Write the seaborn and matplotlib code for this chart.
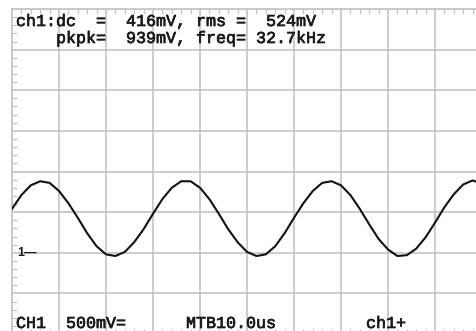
import numpy as np
import pandas as pd
import seaborn as sns
import matplotlib.pyplot as plt
import matplotlib.patheffects as pe
from matplotlib.ticker import MultipleLocator, NullFormatter

# time base in microseconds (10 us / div), CH1 voltage in volts (500 mV / div)
time_us = [0, 2, 4, 6, 8, 10, 12, 14, 16, 18, 20, 22, 24, 26, 28, 30, 32, 34, 36, 38,
           40, 42, 44, 46, 48, 50, 52, 54, 56, 58, 60, 62, 64, 66, 68, 70, 72, 74, 76, 78,
           80, 82, 84, 86, 88, 90, 92, 94, 96, 98, 100]
ch1_volts = [0.54, 0.71, 0.83, 0.88, 0.86, 0.76, 0.61, 0.43, 0.24, 0.08, -0.02, -0.04, 0.01,
             0.13, 0.29, 0.48, 0.66, 0.80, 0.88, 0.88, 0.80, 0.66, 0.48, 0.29, 0.13, 0.01,
             -0.04, -0.02, 0.08, 0.24, 0.43, 0.61, 0.76, 0.86, 0.88, 0.83, 0.71, 0.54, 0.35,
             0.17, 0.04, -0.04, -0.03, 0.05, 0.19, 0.37, 0.56, 0.72, 0.84, 0.89, 0.85]

readout_top = ["ch1:dc  =  416mV, rms =  524mV",
               "    pkpk=  939mV, freq= 32.7kHz"]
readout_bottom = "CH1  500mV=      MTB10.0us         ch1+"
ground_marker = "1\u2014"

W, H = 477, 331
grid_col = '#c4c4c4'
text_col = '#1a1a1a'

sns.set_style('white')
plt.rcParams['font.family'] = ['Liberation Mono', 'DejaVu Sans Mono']

fig = plt.figure(figsize=(W / 100, H / 100), dpi=100)
# screen area: 10 x 8 divisions, right and bottom edges run slightly off the picture
ax = fig.add_axes([12 / W, (H - 334) / H, 470 / W, 325 / H])

df = pd.DataFrame({'t': time_us, 'v': ch1_volts})
sns.lineplot(data=df, x='t', y='v', ax=ax, color='#111111', linewidth=1.5, zorder=3)

ax.set_xlim(0, 100)
ax.set_ylim(-1.0, 3.0)
ax.xaxis.set_major_locator(MultipleLocator(10))
ax.yaxis.set_major_locator(MultipleLocator(0.5))
ax.xaxis.set_minor_locator(MultipleLocator(2))
ax.yaxis.set_minor_locator(MultipleLocator(0.1))
ax.xaxis.set_major_formatter(NullFormatter())
ax.yaxis.set_major_formatter(NullFormatter())
ax.grid(True, which='major', color=grid_col, linewidth=1.2)
ax.tick_params(which='major', length=0)
ax.tick_params(which='minor', direction='in', length=3.5, width=0.9, color=grid_col,
               top=True, bottom=True, left=True, right=False)
ax.set_xlabel('')
ax.set_ylabel('')
for s in ax.spines.values():
    s.set_color(grid_col)
    s.set_linewidth(1.2)
ax.spines['right'].set_visible(False)

# slightly heavier than regular, like the scope's screen font
thick = [pe.withStroke(linewidth=0.5, foreground=text_col)]
for y_px, line in [(26, readout_top[0]), (43, readout_top[1]), (328, readout_bottom)]:
    fig.text(16 / W, (H - y_px) / H, line, fontsize=12, color=text_col,
             va='baseline', path_effects=thick)
fig.text(17 / W, (H - 256) / H, ground_marker, fontsize=9, color=text_col, va='baseline',
         fontweight='bold', family=['Liberation Sans', 'DejaVu Sans'])

fig.savefig('out.png', dpi=100)
